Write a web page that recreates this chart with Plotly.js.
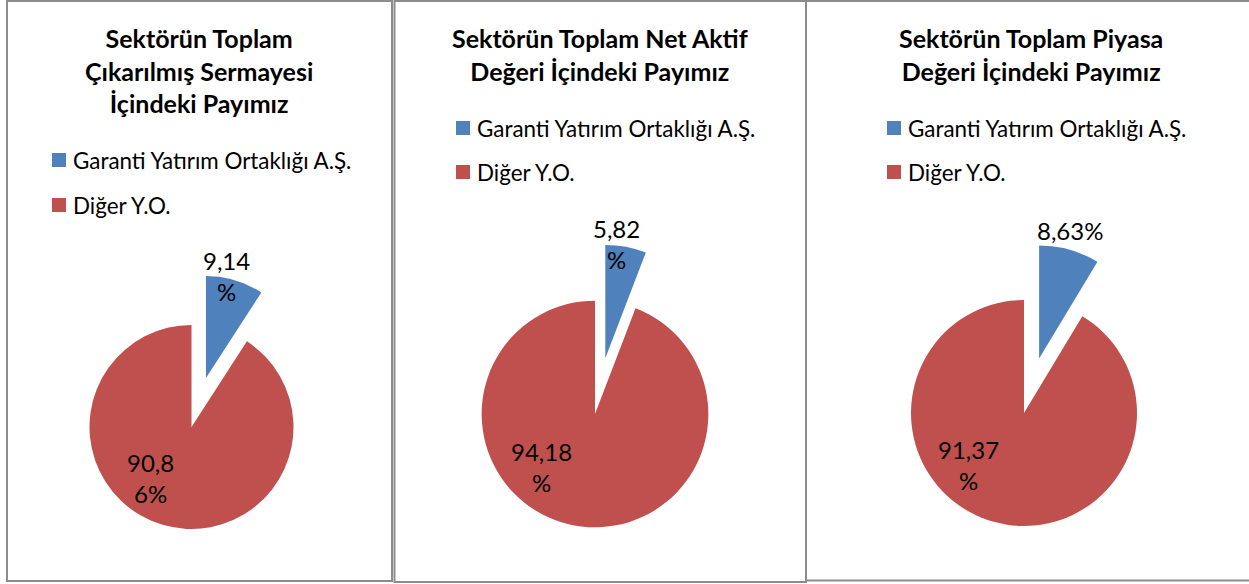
<!DOCTYPE html>
<html><head><meta charset="utf-8">
<script src="https://cdn.plot.ly/plotly-3.0.1.min.js"></script>
<style>html,body{margin:0;padding:0;background:#fff;} #chart{width:1249px;height:584px;}</style>
</head><body><div id="chart"></div>
<script>
// ---- data ----
const panelTitles = ["Sektörün Toplam<br>Çıkarılmış Sermayesi<br>İçindeki Payımız",
                     "Sektörün Toplam Net Aktif<br>Değeri İçindeki Payımız",
                     "Sektörün Toplam Piyasa<br>Değeri İçindeki Payımız"];
const categories = ["Garanti Yatırım Ortaklığı A.Ş.", "Diğer Y.O."];
const garantiShare = [9.14, 5.82, 8.63];
const digerShare = [90.86, 94.18, 91.37];
const garantiLabels = ["9,14<br>%", "5,82<br>%", "8,63%"];
const digerLabels = ["90,8<br>6%", "94,18<br>%", "91,37<br>%"];
const sliceColors = ["#4F81BD", "#C0504D"];

// ---- layout geometry (pixels) ----
const W = 1249, H = 584;
const FONT = "Lato, 'Open Sans', sans-serif";
const geom = [
  {box:[7,1,392,581],   cx:191.5, cy:427, half:153,   title:[199,70.5],  leg:[52,[160,205]], gl:[226,276], dl:[150,478]},
  {box:[394.5,1,806,582], cx:595, cy:414, half:170,  title:[600,54],  leg:[456,[128,172]], gl:[616,244], dl:[541,467]},
  {box:[806,1,1262,580.5], cx:1024, cy:413, half:169.5, title:[1031,54], leg:[887,[128,172]], gl:[1070,230], dl:[968.5,465]}
];
const PULL = 0.5;
const fx = x => x / W, fy = y => 1 - y / H;

const traces = [], shapes = [], annotations = [];
geom.forEach((g, i) => {
  traces.push({
    type: 'pie', labels: categories, values: [garantiShare[i], digerShare[i]],
    sort: false, direction: 'clockwise', rotation: 0, pull: [PULL, 0],
    marker: {colors: sliceColors, line: {width: 0}},
    textinfo: 'none', showlegend: false, hoverinfo: 'label+percent',
    domain: {x: [fx(g.cx - g.half), fx(g.cx + g.half)], y: [fy(g.cy + g.half), fy(g.cy - g.half)]}
  });
  shapes.push({type:'rect', xref:'paper', yref:'paper', x0:fx(g.box[0]), x1:fx(g.box[2]), y0:fy(g.box[3]), y1:fy(g.box[1]),
               line:{color:'#8c8c8c', width:2}, fillcolor:'rgba(0,0,0,0)'});
  annotations.push({xref:'paper', yref:'paper', x:fx(g.title[0]), y:fy(g.title[1]), xanchor:'center', yanchor:'middle',
                    text: panelTitles[i], showarrow:false, font:{family:FONT, size:25, weight:700, color:'#000'}});
  categories.forEach((c, k) => {
    const yy = g.leg[1][k];
    shapes.push({type:'rect', xref:'paper', yref:'paper', x0:fx(g.leg[0]), x1:fx(g.leg[0]+14), y0:fy(yy+7), y1:fy(yy-7),
                 line:{width:0}, fillcolor:sliceColors[k]});
    annotations.push({xref:'paper', yref:'paper', x:fx(g.leg[0]+19), y:fy(yy), xanchor:'left', yanchor:'middle',
                      text:c, showarrow:false, font:{family:FONT, size:22.4, color:'#000'}});
  });
  annotations.push({xref:'paper', yref:'paper', x:fx(g.gl[0]), y:fy(g.gl[1]), xanchor:'center', yanchor:'middle',
                    text:garantiLabels[i], showarrow:false, font:{family:FONT, size:24, color:'#000'}});
  annotations.push({xref:'paper', yref:'paper', x:fx(g.dl[0]), y:fy(g.dl[1]), xanchor:'center', yanchor:'middle',
                    text:digerLabels[i], showarrow:false, font:{family:FONT, size:24, color:'#000'}});
});

const layout = {
  width: W, height: H, margin: {l:0, r:0, t:0, b:0},
  paper_bgcolor: '#fff', plot_bgcolor: '#fff', showlegend: false,
  shapes: shapes, annotations: annotations
};
Plotly.newPlot('chart', traces, layout, {displayModeBar: false, staticPlot: true});
</script></body></html>
